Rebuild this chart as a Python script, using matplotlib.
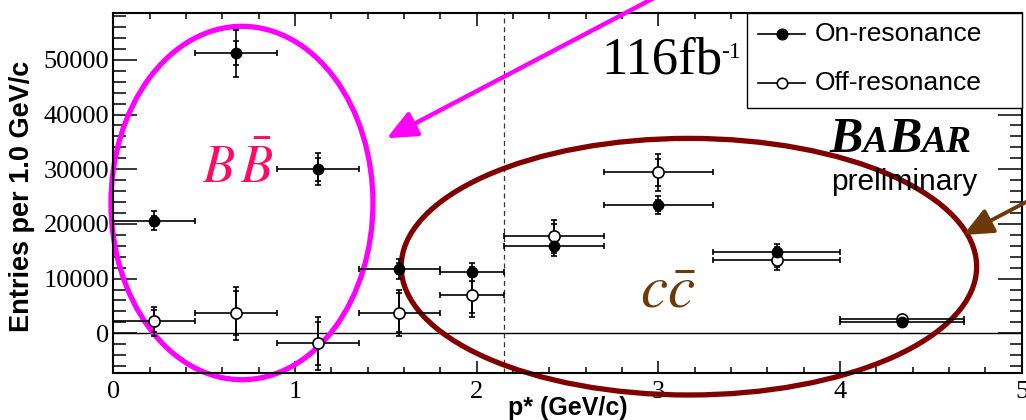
import numpy as np
import matplotlib
matplotlib.use('Agg')
import matplotlib.pyplot as plt
from matplotlib.patches import Ellipse, FancyArrowPatch, Rectangle
from matplotlib.lines import Line2D

plt.rcParams['mathtext.fontset'] = 'stix'

# p* bins (GeV/c) and yields per bin
p_edges = [0.0, 0.45, 0.9, 1.35, 1.8, 2.15, 2.7, 3.3, 4.0, 4.68]

on_vals = [20600, 51200, 30000, 11800, 11150, 16000, 23400, 14900, 2150]
on_err = [1800, 4300, 2950, 1850, 1650, 1900, 1650, 1350, 500]
on_stat = [900, 2150, 2100, 1000, 900, 1000, 1000, 800, 300]

off_vals = [2200, 3650, -1850, 3800, 7000, 17700, 29400, 13400, 2700]
off_err = [2700, 4800, 4850, 4200, 4000, 3000, 3300, 1800, 600]
off_stat = [2000, 4000, 4000, 3500, 3300, 2300, 2400, 1300, 400]

p_cut = 2.15
lumi_text = '116fb'

edges = np.array(p_edges)
p_mid = 0.5 * (edges[1:] + edges[:-1])
p_half = 0.5 * (edges[1:] - edges[:-1])

W, H = 1026, 420
fig = plt.figure(figsize=(W / 100, H / 100), dpi=100)
ax = fig.add_axes([113.3 / W, (H - 372.7) / H, 908.5 / W, 359.4 / H])


def fpx(x, y):
    # pixel position (from top-left) -> figure fraction
    return x / W, 1 - y / H


serif = 'Liberation Serif'
sans = 'Liberation Sans'

ax.set_xlim(0, 5)
ax.set_ylim(-7200, 58500)
ax.set_xticks(np.arange(0, 6, 1))
ax.set_xticks(np.arange(0, 5.01, 0.2), minor=True)
ax.set_yticks(np.arange(0, 60000, 10000))
ax.set_yticks(np.arange(-6000, 58001, 2000), minor=True)
ax.tick_params(which='both', direction='in', top=True, right=True, width=1.1, color='k')
ax.tick_params(axis='x', which='major', length=9, pad=6)
ax.tick_params(axis='x', which='minor', length=4)
ax.tick_params(axis='y', which='major', length=17, pad=3)
ax.tick_params(axis='y', which='minor', length=9)
for lab in ax.get_xticklabels() + ax.get_yticklabels():
    lab.set_family(serif)
    lab.set_fontsize(19)
for s in ax.spines.values():
    s.set_linewidth(1.5)

ax.axhline(0, color='k', lw=1.0, zorder=1)
ax.axvline(p_cut, color='#333333', lw=0.9, ls=(0, (4, 3)), zorder=1)

# total and statistical error bars
ebkw = dict(fmt='none', ecolor='k', elinewidth=1.2, capsize=2.5, capthick=1.2, zorder=3)
ax.errorbar(p_mid, on_vals, xerr=p_half, yerr=on_err, **ebkw)
ax.errorbar(p_mid, on_vals, yerr=on_stat, **ebkw)
ax.errorbar(p_mid, off_vals, xerr=p_half, yerr=off_err, **ebkw)
ax.errorbar(p_mid, off_vals, yerr=off_stat, **ebkw)
ax.plot(p_mid, off_vals, 'o', ms=8, mfc='white', mec='k', mew=1.2, zorder=4)
ax.plot(p_mid, on_vals, 'o', ms=7.5, mfc='k', mec='k', zorder=5)

# highlight regions
ax.add_patch(Ellipse((0.708, 23820), 1.442, 64600, fill=False, ec='#ff00ff', lw=3.8,
                     clip_on=False, zorder=2.5))
ax.add_patch(Ellipse((3.168, 12180), 3.167, 46910, fill=False, ec='#800000', lw=3.8,
                     clip_on=False, zorder=2.5))

fig.text(*fpx(238, 183), r'$B\,\bar{B}$', color='#ff0a64', fontsize=38,
         ha='center', va='baseline')
fig.text(*fpx(668, 308), r'$c\bar{c}$', color='#6b3a08', fontsize=44,
         ha='center', va='baseline')

# arrows pointing at the ellipses
fig.add_artist(FancyArrowPatch(fpx(786.7, -71.7), fpx(386.7, 138.3), transform=fig.transFigure,
                               arrowstyle='-|>,head_length=0.9,head_width=0.4',
                               mutation_scale=20, color='#ff00ff', lw=3.2,
                               shrinkA=0, shrinkB=0))
fig.add_artist(FancyArrowPatch(fpx(1083.3, 172), fpx(963.3, 235), transform=fig.transFigure,
                               arrowstyle='-|>,head_length=0.9,head_width=0.4',
                               mutation_scale=20, color='#6b3a08', lw=2.8,
                               shrinkA=0, shrinkB=0))

# luminosity
fig.text(*fpx(601, 73), lumi_text, family=serif, fontsize=38, va='baseline', ha='left')
fig.text(*fpx(721, 58), '-1', family=serif, fontsize=17, va='baseline', ha='left')

# BABAR logo
for txt, xp, fs in [('B', 829, 36), ('A', 863, 27), ('B', 888, 36), ('AR', 922, 27)]:
    fig.text(*fpx(xp, 152), txt, family=serif, weight='bold', style='italic',
             fontsize=fs, va='baseline', ha='left')
fig.text(*fpx(904, 190), 'preliminary', family=sans, fontsize=21.5,
         va='baseline', ha='center', zorder=1)

# legend box
x0, y0 = fpx(747.3, 108.3)
x1, y1 = fpx(1021.8, 13.3)
fig.add_artist(Rectangle((x0, y0), x1 - x0, y1 - y0, transform=fig.transFigure,
                         fc='white', ec='k', lw=1.0, zorder=6))
for yrow, lab, face in [(34, 'On-resonance', 'k'), (83, 'Off-resonance', 'white')]:
    xa, ya = fpx(758, yrow)
    xb, _ = fpx(805, yrow)
    fig.add_artist(Line2D([xa, xb], [ya, ya], transform=fig.transFigure, color='k',
                          lw=1.2, zorder=7))
    fig.add_artist(Line2D([fpx(782, yrow)[0]], [ya], transform=fig.transFigure, marker='o',
                          ms=7.5, mfc=face, mec='k', mew=1.2, zorder=8))
    fig.text(*fpx(815, yrow), lab, family=sans, fontsize=19, va='center', ha='left', zorder=8)

fig.text(*fpx(22, 196.5), 'Entries per 1.0 GeV/c', family=sans, weight='bold',
         fontsize=19.5, rotation=90, ha='center', va='center')
fig.text(*fpx(568, 408), 'p* (GeV/c)', family=sans, weight='bold', fontsize=18,
         ha='center', va='center')

fig.savefig('out.png', dpi=100)
